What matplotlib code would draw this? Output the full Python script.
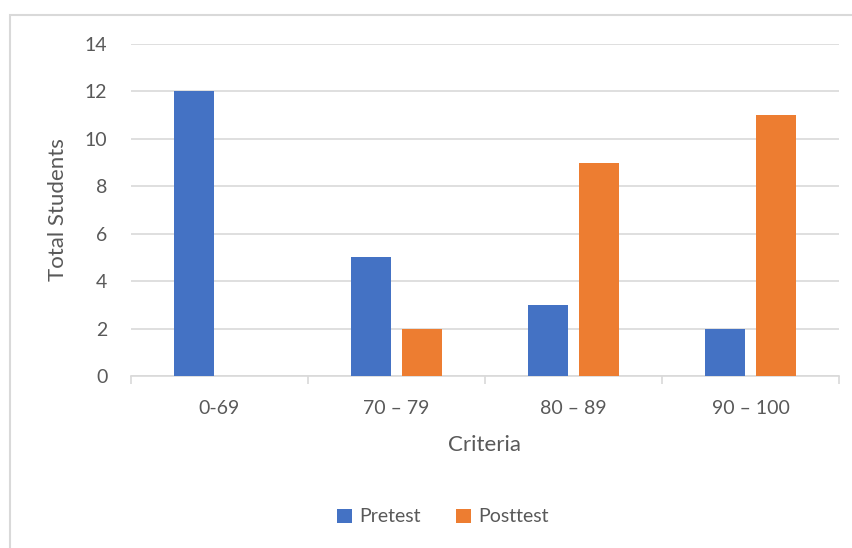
import numpy as np
import matplotlib.pyplot as plt
from matplotlib.patches import Rectangle

categories = ["0-69", "70 \u2013 79", "80 \u2013 89", "90 \u2013 100"]
pretest = [12, 5, 3, 2]
posttest = [0, 2, 9, 11]

blue = "#4472C4"
orange = "#ED7D31"
grey_text = "#595959"
grid_col = "#D9D9D9"

plt.rcParams['font.family'] = ['Lato', 'DejaVu Sans']

W, H = 853, 548
fig = plt.figure(figsize=(W / 100, H / 100), dpi=100)

# light outline of the chart area (only left/top edges visible)
fig.patches.append(Rectangle((10 / W, -0.1), 1.2, 1 - 15 / H + 0.1,
                             transform=fig.transFigure, fill=False,
                             edgecolor=grid_col, lw=1.5))

ax = fig.add_axes([131 / W, 1 - 376 / H, (839 - 131) / W, (376 - 44) / H])

x = np.arange(len(categories))
bw = 0.225
off = 0.142
ax.bar(x - off, pretest, bw, color=blue, label="Pretest", zorder=3)
ax.bar(x + off, posttest, bw, color=orange, label="Posttest", zorder=3)

ax.set_xlim(-0.5, len(categories) - 0.5)
ax.set_ylim(0, 14)
ax.set_yticks(np.arange(0, 15, 2))
ax.yaxis.grid(True, color=grid_col, lw=1.2, zorder=0)
ax.set_axisbelow(True)

for s in ["top", "right", "left"]:
    ax.spines[s].set_visible(False)
ax.spines["bottom"].set_color(grid_col)
ax.spines["bottom"].set_linewidth(1.2)

ax.set_xticks(x)
ax.set_xticklabels(categories)
ax.set_xticks(np.arange(-0.5, len(categories)), minor=True)
ax.tick_params(axis="x", which="major", length=0, pad=17,
               labelsize=14, labelcolor=grey_text)
ax.tick_params(axis="x", which="minor", length=6, width=1.2, color=grid_col)
ax.tick_params(axis="y", length=0, pad=17, labelsize=14, labelcolor=grey_text)

ax.set_xlabel("Criteria", fontsize=16, color=grey_text, labelpad=13)
ax.set_ylabel("Total Students", fontsize=16, color=grey_text, labelpad=12)

fig.legend(loc="center", bbox_to_anchor=(443 / W, 1 - 517 / H), ncol=2,
           frameon=False, fontsize=14, labelcolor=grey_text,
           handlelength=0.75, handleheight=0.75, handletextpad=0.4,
           columnspacing=1.8)

fig.savefig("out.png", dpi=100, facecolor="white")
